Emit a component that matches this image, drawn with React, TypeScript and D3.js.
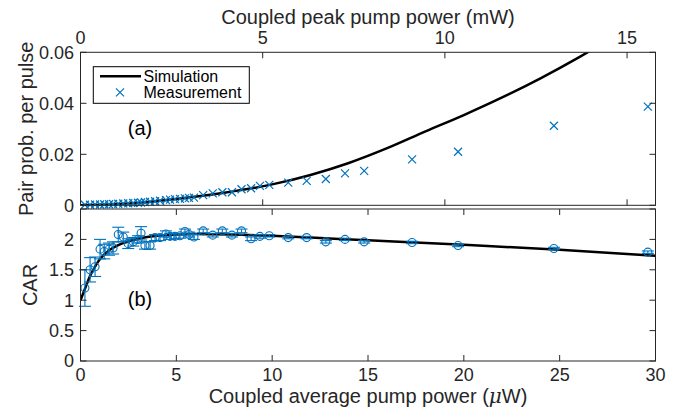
import React from "react";
import * as d3 from "d3";

// ---------- data ----------
const measPower = [0.23, 0.5, 0.76, 1.02, 1.24, 1.49, 1.7, 1.97, 2.23, 2.49, 2.75, 3.0, 3.16, 3.36, 3.63, 3.89, 4.15, 4.46, 4.67, 4.93, 5.19, 5.45, 5.66, 5.92, 6.4, 6.9, 7.4, 7.9, 8.4, 8.9, 9.36, 9.85, 10.84, 11.8, 12.8, 13.8, 14.8, 17.3, 19.7, 24.7, 29.6];
const measPairProb = [0.0002, 0.0002, 0.0003, 0.0003, 0.0004, 0.0004, 0.0005, 0.0006, 0.0007, 0.0008, 0.0009, 0.001, 0.0011, 0.0013, 0.0014, 0.0016, 0.0018, 0.002, 0.0022, 0.0024, 0.0025, 0.0027, 0.0029, 0.003, 0.004, 0.0047, 0.0051, 0.0051, 0.0063, 0.0067, 0.0076, 0.008, 0.0089, 0.0096, 0.0103, 0.0125, 0.0135, 0.018, 0.021, 0.0312, 0.0387];
const measCAR = [1.2, 1.5, 1.55, 1.84, 1.8, 1.84, 1.86, 2.08, 2.04, 1.93, 1.96, 2.0, 2.1, 1.9, 1.9, 2.03, 2.03, 2.09, 2.05, 2.05, 2.06, 2.13, 2.08, 2.04, 2.14, 2.07, 2.14, 2.07, 2.14, 2.01, 2.05, 2.06, 2.03, 2.03, 1.96, 2.0, 1.96, 1.95, 1.9, 1.85, 1.79];
const measCARErr = [0.3, 0.2, 0.16, 0.16, 0.12, 0.1, 0.1, 0.12, 0.08, 0.08, 0.07, 0.06, 0.11, 0.06, 0.06, 0.05, 0.05, 0.05, 0.05, 0.04, 0.04, 0.04, 0.04, 0.04, 0.03, 0.03, 0.03, 0.03, 0.03, 0.03, 0.03, 0.02, 0.02, 0.02, 0.02, 0.02, 0.02, 0.02, 0.02, 0.02, 0.02];

const simPairPower = [0, 2.5, 5, 7.5, 10, 12, 14, 16, 18, 20, 22, 24, 26, 28];
const simPairProb = [0, 0.0007, 0.0025, 0.0049, 0.0082, 0.0119, 0.0166, 0.0224, 0.029, 0.0354, 0.0423, 0.0498, 0.058, 0.067];

const simCARPower = [0, 0.25, 0.5, 0.75, 1.0, 1.5, 2.0, 3.0, 4.0, 6.0, 8.0, 10, 12, 15, 20, 25, 30];
const simCAR = [1.0, 1.2, 1.4, 1.55, 1.67, 1.82, 1.91, 2.01, 2.06, 2.09, 2.08, 2.06, 2.03, 1.985, 1.91, 1.83, 1.73];

const bottomTicks = [0, 5, 10, 15, 20, 25, 30];
const topTicks = [0, 5, 10, 15];
const pairTicks = [0, 0.02, 0.04, 0.06];
const carTicks = [0, 0.5, 1, 1.5, 2, 2.5];
const carTickLabels = ["0", "0.5", "1", "1.5", "2", ""];

// ---------- layout ----------
const W = 682, H = 409;
const L = 80.5, R = 655.5;
const topT = 52.3, topB = 205.3;
const botT = 209, botB = 361;
const FONT = "'Liberation Sans', Arial, Helvetica, sans-serif";
const AX = "#262626";
const BLUE = "#0072BD";
const TL = 6;

export default function App() {
  const x = d3.scaleLinear().domain([0, 30]).range([L, R]);
  const x2 = d3.scaleLinear().domain([0, 15.78]).range([L, R]);
  const yT = d3.scaleLinear().domain([0, 0.06]).range([topB, topT]);
  const yB = d3.scaleLinear().domain([0, 2.5]).range([botB, botT]);

  const pairLine = d3.line<number>().x((_, i) => x(simPairPower[i])).y((d) => yT(d)).curve(d3.curveMonotoneX)(simPairProb) || "";
  const carLine = d3.line<number>().x((_, i) => x(simCARPower[i])).y((d) => yB(d)).curve(d3.curveMonotoneX)(simCAR) || "";

  const cs = 4; // cross half size
  return (
    <div style={{ position: "absolute", left: 0, top: 0 }}>
      <svg width={W} height={H} style={{ display: "block", background: "#fff" }} fontFamily={FONT}>
        <defs>
          <clipPath id="clipTop"><rect x={L} y={topT} width={R - L} height={topB - topT} /></clipPath>
          <clipPath id="clipBot"><rect x={L} y={botT} width={R - L} height={botB - botT} /></clipPath>
        </defs>
        <rect x={0} y={0} width={W} height={H} fill="#fff" />

        {/* ---------- top panel ---------- */}
        <g>
          <path d={pairLine} fill="none" stroke="#000" strokeWidth={2.5} clipPath="url(#clipTop)" />
          {measPower.map((p, i) => {
            const cx = x(p), cy = yT(measPairProb[i]);
            return (
              <path key={i} d={`M${cx - cs},${cy - cs}L${cx + cs},${cy + cs}M${cx - cs},${cy + cs}L${cx + cs},${cy - cs}`} stroke={BLUE} strokeWidth={1.2} fill="none" />
            );
          })}
          <rect x={L} y={topT} width={R - L} height={topB - topT} fill="none" stroke={AX} strokeWidth={1} />
          {pairTicks.map((t) => (
            <g key={t}>
              <line x1={L} x2={L + TL} y1={yT(t)} y2={yT(t)} stroke={AX} />
              <line x1={R} x2={R - TL} y1={yT(t)} y2={yT(t)} stroke={AX} />
              <text x={74} y={yT(t)} dy="0.35em" textAnchor="end" fontSize={18} fill={AX}>{t === 0 ? "0" : String(t)}</text>
            </g>
          ))}
          {topTicks.map((t) => (
            <g key={t}>
              <line x1={x2(t)} x2={x2(t)} y1={topT} y2={topT + TL} stroke={AX} />
              <line x1={x2(t)} x2={x2(t)} y1={topB} y2={topB - TL} stroke={AX} />
              <text x={x2(t)} y={44} textAnchor="middle" fontSize={18} fill={AX}>{t}</text>
            </g>
          ))}
          <text x={368} y={24} textAnchor="middle" fontSize={20} fill={AX}>Coupled peak pump power (mW)</text>
          <text transform={`translate(33,${(topT + topB) / 2}) rotate(-90)`} textAnchor="middle" fontSize={20} fill={AX}>Pair prob. per pulse</text>
          <text x={140} y={135} textAnchor="middle" fontSize={20} fill="#000">(a)</text>

          {/* legend */}
          <rect x={93.3} y={66.7} width={156} height={36.6} fill="#fff" stroke="#000" strokeWidth={1} />
          <line x1={100} x2={141} y1={76.3} y2={76.3} stroke="#000" strokeWidth={2.5} />
          <text x={143.5} y={76.3} dy="0.35em" fontSize={16} fill="#000">Simulation</text>
          <path d={`M${120 - cs},${92.3 - cs}L${120 + cs},${92.3 + cs}M${120 - cs},${92.3 + cs}L${120 + cs},${92.3 - cs}`} stroke={BLUE} strokeWidth={1.2} fill="none" />
          <text x={143.5} y={92.3} dy="0.35em" fontSize={16} fill="#000">Measurement</text>
        </g>

        {/* ---------- bottom panel ---------- */}
        <g>
          <path d={carLine} fill="none" stroke="#000" strokeWidth={2.5} clipPath="url(#clipBot)" />
          {measPower.map((p, i) => {
            const cx = x(p), cy = yB(measCAR[i]);
            const y1 = yB(measCAR[i] + measCARErr[i]), y2 = yB(measCAR[i] - measCARErr[i]);
            return (
              <g key={i} stroke={BLUE} strokeWidth={1.1} fill="none">
                <line x1={cx} x2={cx} y1={y1} y2={y2} />
                <line x1={cx - 6} x2={cx + 6} y1={y1} y2={y1} />
                <line x1={cx - 6} x2={cx + 6} y1={y2} y2={y2} />
                <circle cx={cx} cy={cy} r={4} />
              </g>
            );
          })}
          <rect x={L} y={botT} width={R - L} height={botB - botT} fill="none" stroke={AX} strokeWidth={1} />
          {carTicks.map((t, i) => (
            <g key={t}>
              <line x1={L} x2={L + TL} y1={yB(t)} y2={yB(t)} stroke={AX} />
              <line x1={R} x2={R - TL} y1={yB(t)} y2={yB(t)} stroke={AX} />
              <text x={74} y={yB(t)} dy="0.35em" textAnchor="end" fontSize={18} fill={AX}>{carTickLabels[i]}</text>
            </g>
          ))}
          {bottomTicks.map((t) => (
            <g key={t}>
              <line x1={x(t)} x2={x(t)} y1={botB} y2={botB - TL} stroke={AX} />
              <line x1={x(t)} x2={x(t)} y1={botT} y2={botT + TL} stroke={AX} />
              <text x={x(t)} y={381} textAnchor="middle" fontSize={18} fill={AX}>{t}</text>
            </g>
          ))}
          <text x={368} y={403} textAnchor="middle" fontSize={20} fill={AX}>
            Coupled average pump power (<tspan fontStyle="italic" fontFamily="'DejaVu Serif', 'Liberation Serif', serif">μ</tspan>W)
          </text>
          <text transform={`translate(37,${(botT + botB) / 2}) rotate(-90)`} textAnchor="middle" fontSize={20} fill={AX}>CAR</text>
          <text x={140} y={306} textAnchor="middle" fontSize={20} fill="#000">(b)</text>
        </g>
      </svg>
    </div>
  );
}
